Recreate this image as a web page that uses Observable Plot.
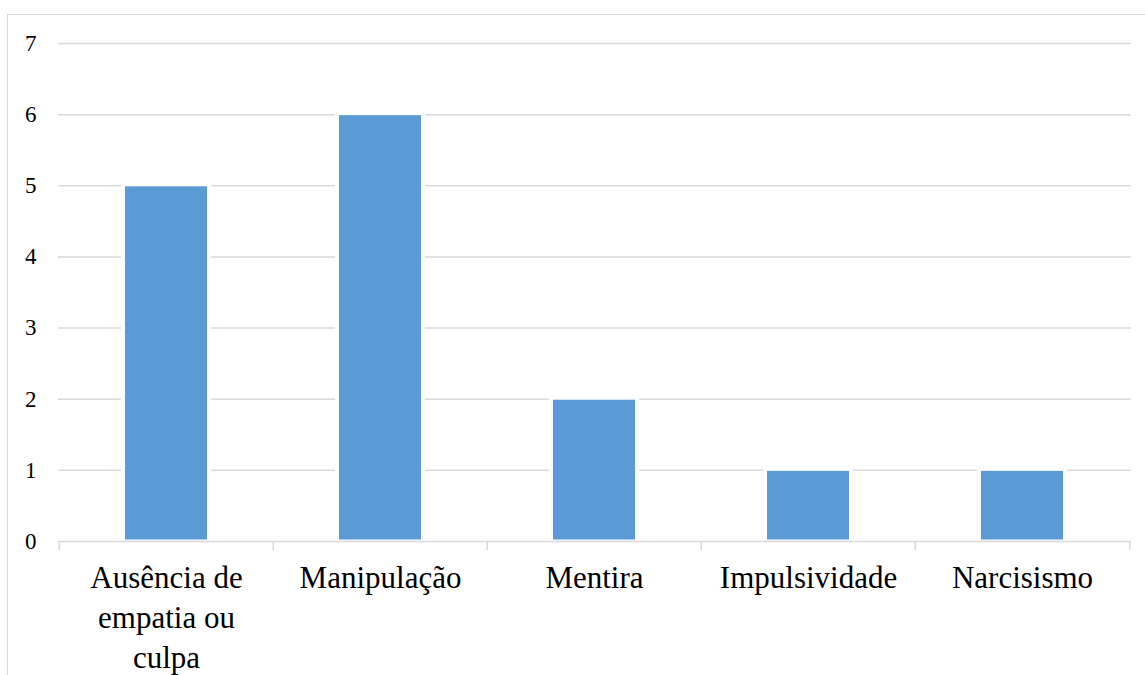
<!DOCTYPE html>
<html>
<head>
<meta charset="utf-8">
<script src="https://cdn.jsdelivr.net/npm/d3@7"></script>
<script src="https://cdn.jsdelivr.net/npm/@observablehq/plot@0.6"></script>
<style>
  html, body { margin: 0; padding: 0; background: #fff; }
  #wrap { position: relative; width: 1145px; height: 675px; overflow: hidden; }
  #frame { position: absolute; left: 6.5px; top: 13.5px; right: -5px; bottom: -5px;
           border-top: 1.5px solid #d9d9d9; border-left: 1.5px solid #d9d9d9; pointer-events: none; }
</style>
</head>
<body>
<div id="wrap"><div id="chart"></div><div id="frame"></div></div>
<script>
const categories = ["Ausência de empatia ou culpa", "Manipulação", "Mentira", "Impulsividade", "Narcisismo"];
const values = [5, 6, 2, 1, 1];
const categoryLabels = ["Ausência de\nempatia ou\nculpa", "Manipulação", "Mentira", "Impulsividade", "Narcisismo"];
const yTicks = [0, 1, 2, 3, 4, 5, 6, 7];

const data = categories.map((c, i) => ({category: c, value: values[i]}));
const labelOf = new Map(categories.map((c, i) => [c, categoryLabels[i]]));

const W = 1145, H = 675, mL = 58, mR = 14, mT = 43, mB = 134;
const step = (W - mL - mR) / categories.length;
const grid = "#d9d9d9";

const chart = Plot.plot({
  width: W,
  height: H,
  marginLeft: mL,
  marginRight: mR,
  marginTop: mT,
  marginBottom: mB,
  style: {fontFamily: "'Liberation Serif', 'Times New Roman', serif", color: "#000", background: "transparent"},
  x: {domain: categories, paddingInner: 0.616, paddingOuter: 0.308},
  y: {domain: [0, 7]},
  marks: [
    Plot.ruleY(yTicks.filter(d => d > 0), {stroke: grid, strokeWidth: 1.5}),
    Plot.barY(data, {x: "category", y: "value", fill: "white", insetLeft: -4, insetRight: -4, insetTop: -3}),
    Plot.barY(data, {x: "category", y: "value", fill: "#5b9bd5", insetTop: 1, insetBottom: 1.5}),
    Plot.ruleY([0], {stroke: grid, strokeWidth: 1.5}),
    Plot.ruleX(categories, {x: d => d, y1: 0, y2: 0, insetBottom: -9, dx: -step / 2, stroke: grid, strokeWidth: 1.5}),
    Plot.ruleX(categories.slice(-1), {x: d => d, y1: 0, y2: 0, insetBottom: -9, dx: step / 2, stroke: grid, strokeWidth: 1.5}),
    Plot.axisY({ticks: yTicks, tickSize: 0, tickPadding: 22, fontSize: 23, tickFormat: d => String(d), label: null}),
    Plot.axisX({tickSize: 0, tickPadding: 18.5, fontSize: 31, lineHeight: 1.29, tickFormat: d => labelOf.get(d), label: null})
  ]
});
document.getElementById("chart").appendChild(chart);
</script>
</body>
</html>
